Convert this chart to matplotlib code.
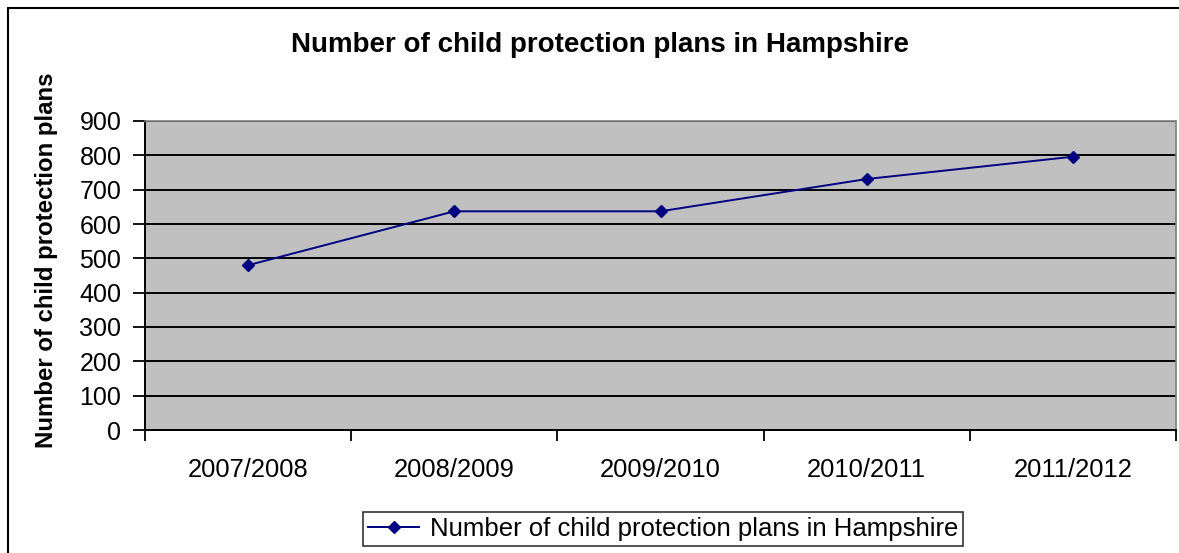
import numpy as np
import matplotlib
matplotlib.use("Agg")
import matplotlib.pyplot as plt
from matplotlib.patches import Rectangle

plt.rcParams['font.family'] = ['Liberation Sans', 'DejaVu Sans']

years = ['2007/2008', '2008/2009', '2009/2010', '2010/2011', '2011/2012']
plans = [480, 637, 637, 731, 796]
y_ticks = np.arange(0, 901, 100)

series_name = 'Number of child protection plans in Hampshire'
navy = '#000080'

fig = plt.figure(figsize=(11.79, 5.53), dpi=100)

# outer chart frame
fig.patches.append(Rectangle((8 / 1179, -0.05), 1.1, 1 - 8 / 553 + 0.05,
                             transform=fig.transFigure, fill=False,
                             edgecolor='black', linewidth=1.5))

ax = fig.add_axes([145 / 1179, 1 - 430 / 553, 1031 / 1179, 309 / 553])
ax.set_facecolor('#c0c0c0')

x = np.arange(len(years))
ax.plot(x, plans, color=navy, linewidth=1.4, marker='D', markersize=6.5,
        markerfacecolor=navy, markeredgecolor=navy, label=series_name,
        zorder=3)

ax.set_xlim(-0.5, len(years) - 0.5)
ax.set_ylim(0, 900)
ax.set_yticks(y_ticks)
ax.yaxis.grid(True, color='black', linewidth=1.4)
ax.set_axisbelow(True)

# category labels in the middle, tick marks on the boundaries
ax.set_xticks(x)
ax.set_xticklabels(years, fontsize=18.4)
ax.tick_params(axis='x', which='major', length=0, pad=20)
ax.set_xticks(np.arange(-0.5, len(years)), minor=True)
ax.tick_params(axis='x', which='minor', length=8, width=1.3, direction='out',
               color='black')
ax.tick_params(axis='y', length=9, width=1.3, labelsize=18, pad=8,
               color='black')

for side in ['top', 'right']:
    ax.spines[side].set_color('#808080')
    ax.spines[side].set_linewidth(1.2)
for side in ['left', 'bottom']:
    ax.spines[side].set_color('black')
    ax.spines[side].set_linewidth(1.4)

fig.text(600 / 1179, 1 - 45 / 553, series_name, ha='center', va='center',
         fontsize=20, fontweight='bold')
fig.text(47 / 1179, 1 - 260 / 553, 'Number of child protection plans',
         rotation=90, ha='center', va='center', fontsize=17.3,
         fontweight='bold')

leg = fig.legend(loc='center', bbox_to_anchor=(663 / 1179, 1 - 529 / 553),
                 fontsize=18.5, frameon=True, fancybox=False, shadow=False,
                 handlelength=2.0, handletextpad=0.4, borderpad=0.2,
                 borderaxespad=0)
leg.get_frame().set_edgecolor('black')
leg.get_frame().set_linewidth(1.2)

fig.savefig('out.png', dpi=100, facecolor='white')
